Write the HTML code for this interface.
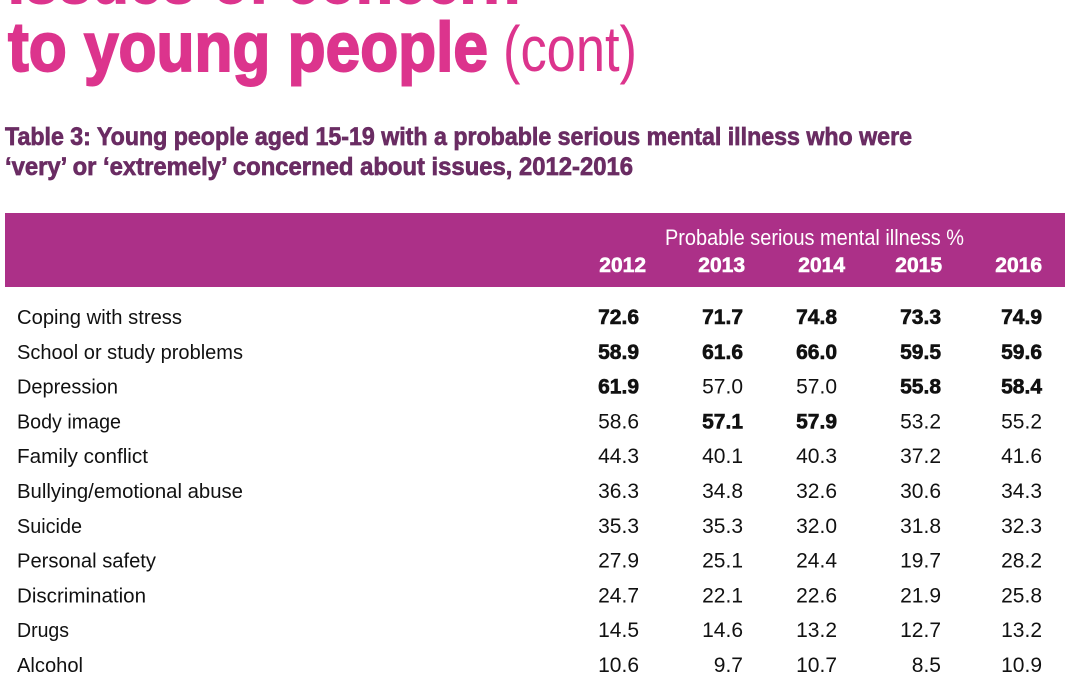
<!DOCTYPE html>
<html>
<head>
<meta charset="utf-8">
<style>
  html, body { margin:0; padding:0; background:#ffffff; }
  svg { display:block; }
  text { font-family: "Liberation Sans", "DejaVu Sans", sans-serif; }
</style>
</head>
<body>
<svg width="1080" height="675" viewBox="0 0 1080 675" xmlns="http://www.w3.org/2000/svg">
  <rect x="0" y="0" width="1080" height="675" fill="#ffffff"/>

  <!-- Title -->
  <text x="8" y="3" font-size="70" font-weight="bold" fill="#DC348D" stroke="#DC348D" stroke-width="2" textLength="512" lengthAdjust="spacingAndGlyphs">issues of concern</text>
  <text x="8" y="71" font-size="70" font-weight="bold" fill="#DC348D" stroke="#DC348D" stroke-width="2" textLength="480" lengthAdjust="spacingAndGlyphs">to young people</text>
  <text x="503" y="71" font-size="64" fill="#DC348D" textLength="134" lengthAdjust="spacingAndGlyphs">(cont)</text>

  <!-- Subtitle -->
  <text x="5" y="145" font-size="25" font-weight="bold" fill="#6A2C63" stroke="#6A2C63" stroke-width="0.7" textLength="907" lengthAdjust="spacingAndGlyphs">Table 3: Young people aged 15-19 with a probable serious mental illness who were</text>
  <text x="5" y="175" font-size="25" font-weight="bold" fill="#6A2C63" stroke="#6A2C63" stroke-width="0.7" textLength="628" lengthAdjust="spacingAndGlyphs">‘very’ or ‘extremely’ concerned about issues, 2012-2016</text>

  <!-- Header band -->
  <rect x="5" y="213" width="1060" height="74" fill="#AC3088"/>
  <text x="665" y="245" font-size="22" fill="#ffffff" textLength="299" lengthAdjust="spacingAndGlyphs">Probable serious mental illness %</text>
  <g font-size="21" font-weight="bold" fill="#ffffff" stroke="#ffffff" stroke-width="0.6" text-anchor="end">
    <text x="646" y="272">2012</text>
    <text x="745" y="272">2013</text>
    <text x="845" y="272">2014</text>
    <text x="942" y="272">2015</text>
    <text x="1042" y="272">2016</text>
  </g>

  <!-- Row labels -->
  <g font-size="20" fill="#111111">
    <text x="17" y="324" textLength="165" lengthAdjust="spacingAndGlyphs">Coping with stress</text>
    <text x="17" y="358.8" textLength="226" lengthAdjust="spacingAndGlyphs">School or study problems</text>
    <text x="17" y="393.6" textLength="101" lengthAdjust="spacingAndGlyphs">Depression</text>
    <text x="17" y="428.4" textLength="104" lengthAdjust="spacingAndGlyphs">Body image</text>
    <text x="17" y="463.2" textLength="131" lengthAdjust="spacingAndGlyphs">Family conflict</text>
    <text x="17" y="498" textLength="226" lengthAdjust="spacingAndGlyphs">Bullying/emotional abuse</text>
    <text x="17" y="532.8" textLength="65" lengthAdjust="spacingAndGlyphs">Suicide</text>
    <text x="17" y="567.6" textLength="139" lengthAdjust="spacingAndGlyphs">Personal safety</text>
    <text x="17" y="602.4" textLength="129" lengthAdjust="spacingAndGlyphs">Discrimination</text>
    <text x="17" y="637.2" textLength="52" lengthAdjust="spacingAndGlyphs">Drugs</text>
    <text x="17" y="672" textLength="66" lengthAdjust="spacingAndGlyphs">Alcohol</text>
  </g>

  <!-- Data -->
  <g font-size="21" fill="#111111" text-anchor="end">
    <g font-weight="bold" stroke="#111111" stroke-width="0.6">
      <text x="639" y="324">72.6</text>
      <text x="743" y="324">71.7</text>
      <text x="837" y="324">74.8</text>
      <text x="941" y="324">73.3</text>
      <text x="1042" y="324">74.9</text>
      <text x="639" y="358.8">58.9</text>
      <text x="743" y="358.8">61.6</text>
      <text x="837" y="358.8">66.0</text>
      <text x="941" y="358.8">59.5</text>
      <text x="1042" y="358.8">59.6</text>
      <text x="639" y="393.6">61.9</text>
      <text x="941" y="393.6">55.8</text>
      <text x="1042" y="393.6">58.4</text>
      <text x="743" y="428.4">57.1</text>
      <text x="837" y="428.4">57.9</text>
    </g>
    <!-- Row 3 -->
    <text x="743" y="393.6">57.0</text>
    <text x="837" y="393.6">57.0</text>
    <!-- Row 4 -->
    <text x="639" y="428.4">58.6</text>
    <text x="941" y="428.4">53.2</text>
    <text x="1042" y="428.4">55.2</text>
    <!-- Row 5 -->
    <text x="639" y="463.2">44.3</text>
    <text x="743" y="463.2">40.1</text>
    <text x="837" y="463.2">40.3</text>
    <text x="941" y="463.2">37.2</text>
    <text x="1042" y="463.2">41.6</text>
    <!-- Row 6 -->
    <text x="639" y="498">36.3</text>
    <text x="743" y="498">34.8</text>
    <text x="837" y="498">32.6</text>
    <text x="941" y="498">30.6</text>
    <text x="1042" y="498">34.3</text>
    <!-- Row 7 -->
    <text x="639" y="532.8">35.3</text>
    <text x="743" y="532.8">35.3</text>
    <text x="837" y="532.8">32.0</text>
    <text x="941" y="532.8">31.8</text>
    <text x="1042" y="532.8">32.3</text>
    <!-- Row 8 -->
    <text x="639" y="567.6">27.9</text>
    <text x="743" y="567.6">25.1</text>
    <text x="837" y="567.6">24.4</text>
    <text x="941" y="567.6">19.7</text>
    <text x="1042" y="567.6">28.2</text>
    <!-- Row 9 -->
    <text x="639" y="602.4">24.7</text>
    <text x="743" y="602.4">22.1</text>
    <text x="837" y="602.4">22.6</text>
    <text x="941" y="602.4">21.9</text>
    <text x="1042" y="602.4">25.8</text>
    <!-- Row 10 -->
    <text x="639" y="637.2">14.5</text>
    <text x="743" y="637.2">14.6</text>
    <text x="837" y="637.2">13.2</text>
    <text x="941" y="637.2">12.7</text>
    <text x="1042" y="637.2">13.2</text>
    <!-- Row 11 -->
    <text x="639" y="672">10.6</text>
    <text x="743" y="672">9.7</text>
    <text x="837" y="672">10.7</text>
    <text x="941" y="672">8.5</text>
    <text x="1042" y="672">10.9</text>
  </g>
</svg>
</body>
</html>
